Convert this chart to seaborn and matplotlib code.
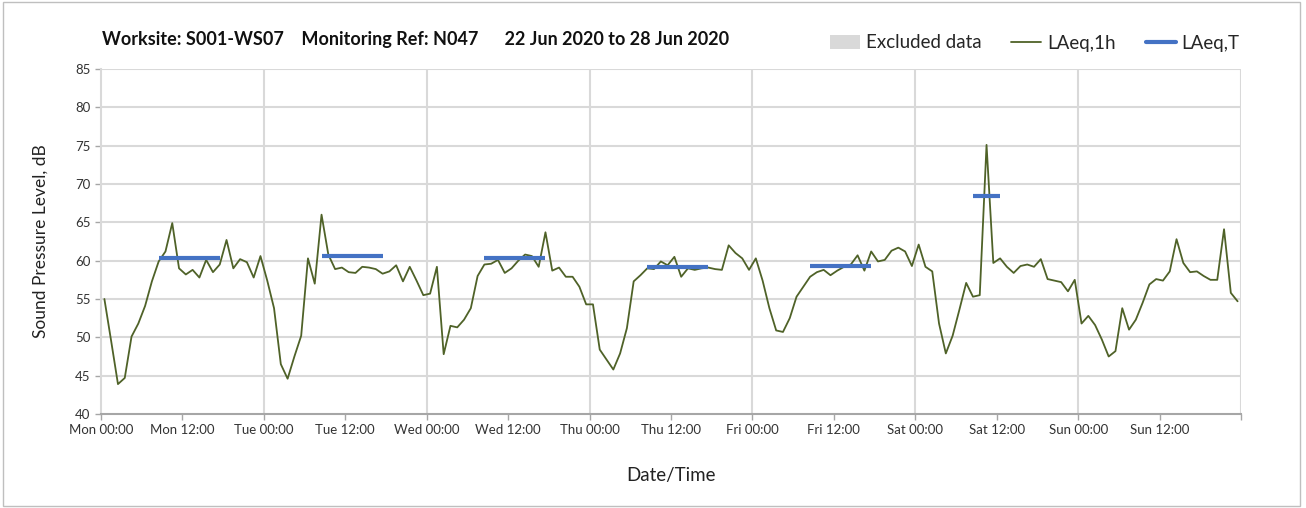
import numpy as np
import pandas as pd
import matplotlib
matplotlib.use("Agg")
import matplotlib.pyplot as plt
import seaborn as sns
from matplotlib.patches import Patch, Rectangle
from matplotlib.lines import Line2D

# hourly LAeq,1h values, Mon 00:00 .. Sun 23:00 (plotted at the middle of each hour)
laeq_1h = [
    55.0, 49.5, 43.9, 44.7, 50.1, 51.8, 54.1, 57.3, 59.9, 61.2, 64.9, 59.0,
    58.2, 58.8, 57.8, 60.1, 58.5, 59.5, 62.7, 59.0, 60.2, 59.8, 57.8, 60.6,
    57.4, 53.8, 46.5, 44.6, 47.5, 50.2, 60.3, 57.0, 66.0, 60.8, 58.9, 59.1,
    58.5, 58.4, 59.2, 59.1, 58.9, 58.3, 58.6, 59.4, 57.3, 59.2, 57.4, 55.5,
    55.7, 59.2, 47.8, 51.5, 51.3, 52.3, 53.8, 58.0, 59.5, 59.6, 60.1, 58.4,
    59.0, 60.0, 60.8, 60.6, 59.2, 63.7, 58.7, 59.1, 57.9, 57.9, 56.6, 54.3,
    54.3, 48.4, 47.1, 45.8, 47.9, 51.2, 57.3, 58.1, 59.0, 58.9, 59.9, 59.4,
    60.5, 57.9, 59.0, 58.8, 59.0, 59.1, 58.9, 58.8, 62.0, 61.0, 60.3, 58.8,
    60.3, 57.4, 53.8, 50.9, 50.7, 52.5, 55.3, 56.6, 57.9, 58.5, 58.8, 58.1,
    58.7, 59.2, 59.5, 60.7, 58.7, 61.2, 59.9, 60.1, 61.3, 61.7, 61.2, 59.3,
    62.1, 59.2, 58.6, 51.8, 47.9, 50.2, 53.6, 57.1, 55.3, 55.5, 75.1, 59.7,
    60.3, 59.2, 58.4, 59.3, 59.5, 59.2, 60.2, 57.6, 57.4, 57.2, 56.0, 57.5,
    51.8, 52.8, 51.6, 49.7, 47.5, 48.2, 53.8, 51.0, 52.3, 54.5, 56.9, 57.6,
    57.4, 58.6, 62.8, 59.7, 58.5, 58.6, 58.0, 57.5, 57.5, 64.1, 55.8, 54.7,
]
hours = np.arange(len(laeq_1h)) + 0.5

# LAeq,T daytime periods (start hour, end hour, level)
period_start = [8.5, 32.5, 56.5, 80.5, 104.5, 128.5]
period_end = [17.5, 41.5, 65.5, 89.5, 113.5, 132.5]
period_level = [60.4, 60.6, 60.4, 59.2, 59.3, 68.4]

tick_hours = list(range(0, 169, 12))
day_names = ["Mon", "Tue", "Wed", "Thu", "Fri", "Sat", "Sun"]
tick_labels = [f"{d} {t}" for d in day_names for t in ("00:00", "12:00")] + [""]

sns.set_style("white")
plt.rcParams["font.family"] = ["Lato", "DejaVu Sans"]

fig = plt.figure(figsize=(13.06, 5.08), dpi=100)
ax = fig.add_axes([101 / 1306, 1 - 414 / 508, (1241 - 101) / 1306, (414 - 69) / 508])

df = pd.DataFrame({"hour": hours, "LAeq,1h": laeq_1h})
sns.lineplot(data=df, x="hour", y="LAeq,1h", ax=ax, color="#4f6228", lw=1.3, zorder=3)
ax.hlines(period_level, period_start, period_end, colors="#4472c4", lw=3, zorder=4)

ax.set_xlim(0, 168)
ax.set_ylim(40, 85)
ax.set_yticks(range(40, 86, 5))
ax.set_xticks(tick_hours)
ax.set_xticklabels(tick_labels, fontsize=9.5, color="#333333")
ax.tick_params(axis="y", labelsize=9.5, labelcolor="#333333")
ax.tick_params(axis="both", direction="out", length=4, width=1, color="#a6a6a6",
               bottom=True, left=True)

# gridlines: every 5 dB and every day
for y in range(45, 86, 5):
    ax.axhline(y, color="#d9d9d9", lw=1.5, zorder=1)
for x in range(24, 169, 24):
    ax.axvline(x, color="#d9d9d9", lw=1.5, zorder=1)

for side in ("top", "right"):
    ax.spines[side].set_visible(False)
ax.spines["left"].set_color("#d9d9d9")
ax.spines["left"].set_linewidth(1.5)
ax.spines["bottom"].set_color("#a6a6a6")
ax.spines["bottom"].set_linewidth(1.5)

ax.set_xlabel("Date/Time", fontsize=13.5, labelpad=22, color="#222222")
ax.set_ylabel("Sound Pressure Level, dB", fontsize=12.5, labelpad=19, color="#222222")

fig.text(102 / 1306, 1 - 40 / 508,
         "Worksite: S001-WS07    Monitoring Ref: N047      22 Jun 2020 to 28 Jun 2020",
         fontsize=13, fontweight="bold", va="center", ha="left", color="#111111")

handles = [
    Patch(facecolor="#d9d9d9", edgecolor="none"),
    Line2D([], [], color="#4f6228", lw=1.3),
    Line2D([], [], color="#4472c4", lw=3),
]
fig.legend(handles, ["Excluded data", "LAeq,1h", "LAeq,T"], ncol=3, frameon=False,
           loc="center right", bbox_to_anchor=(1256 / 1306, 1 - 43 / 508),
           fontsize=13.5, handlelength=1.6, handletextpad=0.3, columnspacing=1.6)

fig.patches.append(Rectangle((3 / 1306, 2 / 508), 1297 / 1306, 504 / 508,
                             transform=fig.transFigure, fill=False,
                             edgecolor="#bfbfbf", lw=1))

fig.savefig("out.png", dpi=100)
plt.close(fig)
